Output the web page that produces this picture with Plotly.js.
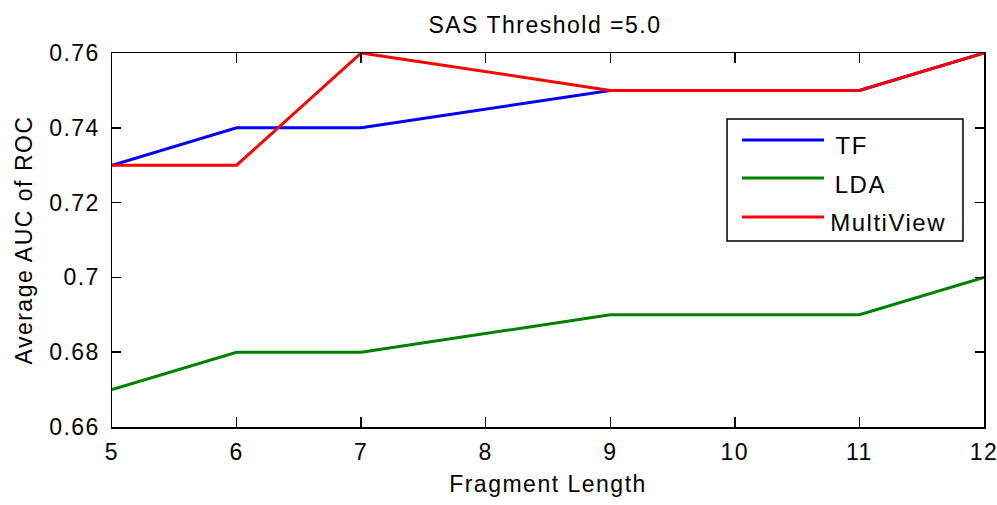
<!DOCTYPE html>
<html>
<head>
<meta charset="utf-8">
<script src="https://cdn.plot.ly/plotly-3.0.1.min.js"></script>
<style>
html,body{margin:0;padding:0;background:#fff;}
#chart{width:997px;height:505px;}
#chart text{letter-spacing:1.5px;}
</style>
</head>
<body>
<div id="chart"></div>
<script>
const fragmentLength = [5, 6, 7, 9, 11, 12];
const tfValues = [0.73, 0.74, 0.74, 0.75, 0.75, 0.76];
const ldaValues = [0.67, 0.68, 0.68, 0.69, 0.69, 0.70];
const multiViewValues = [0.73, 0.73, 0.76, 0.75, 0.75, 0.76];
const seriesNames = ['TF', 'LDA', 'MultiView'];
const seriesColors = ['#0000ff', '#008000', '#ff0000'];
const xTicks = [5, 6, 7, 8, 9, 10, 11, 12];
const yTicks = [0.66, 0.68, 0.7, 0.72, 0.74, 0.76];
const yTickLabels = ['0.66', '0.68', '0.7', '0.72', '0.74', '0.76'];

const fontFamily = '"Liberation Sans", Arial, Helvetica, sans-serif';
const seriesValues = [tfValues, ldaValues, multiViewValues];
const traces = seriesValues.map((vals, i) => ({
  x: fragmentLength, y: vals, name: seriesNames[i], mode: 'lines',
  line: {color: seriesColors[i], width: 3}, showlegend: false
}));

// Boxed legend in the style of the original (long line samples)
const legendBox = {x0: 0.7053, x1: 0.9759, y0: 0.4973, y1: 0.8235};
const legendLineX = [0.7225, 0.8165];
const legendLineY = [0.7674, 0.6658, 0.5615];
const legendTextY = [0.754, 0.6497, 0.5481];
const shapes = [{
  type: 'rect', xref: 'paper', yref: 'paper',
  x0: legendBox.x0, x1: legendBox.x1, y0: legendBox.y0, y1: legendBox.y1,
  line: {color: '#000', width: 1.5}, fillcolor: '#ffffff', layer: 'above'
}];
const annotations = [];
seriesNames.forEach((name, i) => {
  shapes.push({
    type: 'line', xref: 'paper', yref: 'paper',
    x0: legendLineX[0], x1: legendLineX[1], y0: legendLineY[i], y1: legendLineY[i],
    line: {color: seriesColors[i], width: 3}, layer: 'above'
  });
  annotations.push({
    xref: 'paper', yref: 'paper', x: 0.8290, y: legendTextY[i],
    xanchor: 'left', yanchor: 'middle', showarrow: false,
    text: name, font: {size: 24, color: '#000'}
  });
});

const layout = {
  width: 997, height: 505,
  margin: {l: 112, r: 13, t: 53, b: 78},
  paper_bgcolor: '#ffffff', plot_bgcolor: '#ffffff',
  font: {family: fontFamily, size: 23, color: '#000'},
  title: {text: 'SAS Threshold =5.0', font: {size: 23, color: '#000'},
          x: 0.5466, xanchor: 'center', y: 0.9505, yanchor: 'middle'},
  xaxis: {
    range: [5, 12], tickvals: xTicks, ticktext: xTicks.map(String),
    ticks: 'inside', ticklen: 10, tickwidth: 1.5, tickcolor: '#000',
    showline: true, linecolor: '#000', linewidth: 1.5, mirror: 'ticks',
    showgrid: false, zeroline: false,
    ticklabelstandoff: 4,
    title: {text: 'Fragment Length', font: {size: 23}, standoff: 12}
  },
  yaxis: {
    range: [0.66, 0.76], tickvals: yTicks, ticktext: yTickLabels,
    ticks: 'inside', ticklen: 9, tickwidth: 1.5, tickcolor: '#000',
    showline: true, linecolor: '#000', linewidth: 1.5, mirror: 'ticks',
    showgrid: false, zeroline: false,
    ticklabelstandoff: 6,
    title: {text: 'Average AUC of ROC', font: {size: 23}, standoff: 16}
  },
  showlegend: false,
  shapes: shapes,
  annotations: annotations
};

Plotly.newPlot('chart', traces, layout, {displayModeBar: false, staticPlot: true});
</script>
</body>
</html>
